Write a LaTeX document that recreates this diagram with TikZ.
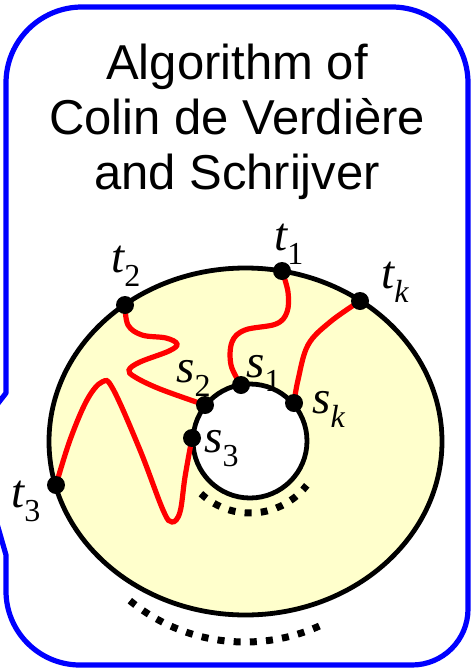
\documentclass[tikz,border=0pt]{standalone}
\usepackage{fontspec}
\setmainfont{Liberation Sans}
\newfontfamily\labfont{Liberation Serif}
\usepackage{tikz}
\usetikzlibrary{positioning}
\definecolor{frameblue}{RGB}{0,0,255}
\definecolor{wirered}{RGB}{255,0,0}
\definecolor{disk}{RGB}{255,255,204}
\newcommand\termlab[2]{{\labfont\itshape #1}\raisebox{-7pt}{\fontsize{16}{16}\selectfont\labfont #2}}

\begin{document}
\begin{tikzpicture}[x=0.5pt, y=-0.5pt,
  frame/.style={draw=frameblue, line width=2.6pt, line join=round},
  rim/.style={draw=black, line width=2.4pt},
  wire/.style={draw=wirered, line width=2.6pt, line cap=round, smooth, tension=0.6},
  dot/.style={circle, fill=black, minimum size=9pt, inner sep=0pt},
  lbl/.style={anchor=base west, inner sep=0pt, font=\fontsize{23.5}{23.5}\selectfont},
  dotline/.style={draw=black, line width=3.5pt, dash pattern=on 3.5pt off 4.6pt},
]
  \useasboundingbox (0,0) rectangle (472,669);
  \clip (0,0) rectangle (472,669);

  % callout frame
  \draw[frame] (-28,437) -- (6,393) -- (6,83) arc[start angle=180, end angle=90, radius=38pt]
    -- (392,7) arc[start angle=90, end angle=0, radius=38pt]
    -- (468,609) arc[start angle=0, end angle=-90, radius=28pt]
    -- (80,665) arc[start angle=-90, end angle=-180, radius=37pt]
    -- (6,555) -- cycle;

  \node[font=\fontsize{24.5}{27.5}\selectfont, align=center, anchor=north] (title) at (237,37)
    {Algorithm of\\Colin de Verdière\\and Schrijver};

  % annulus
  \coordinate (hole) at (250,441);
  \filldraw[rim, fill=disk] (245.5,441.5) ellipse [x radius=98.25pt, y radius=86.75pt];
  \filldraw[rim, fill=white] (hole) circle [radius=28.5pt];

  \coordinate (t1) at (282,271);
  \coordinate (tk) at (360,301);
  \coordinate (t2) at (125,305);
  \coordinate (t3) at (56,485);
  \coordinate (s1) at (241,385);
  \coordinate (sk) at (294,403);
  \coordinate (s2) at (205,405);
  \coordinate (s3) at (192,438);

  % paths
  \draw[wire] plot coordinates {(t1) (288,292) (287,312) (276,324) (245,330) (232,342) (231,365) (s1)};
  \draw[wire] plot coordinates {(tk) (330,322) (308,345) (298,380) (sk)};
  \draw[wire] plot coordinates {(t2) (128,325) (142,335) (166,338) (177,344) (169,351) (140,362) (129,370) (135,377) (160,389) (s2)};
  \draw[wire] plot coordinates {(t3) (70,440) (87,400) (102,382) (113,389) (140,450) (163,510) (172,522) (180,512) (185,477) (s3)};

  \foreach \p in {t1,tk,t2,t3,s1,sk,s2,s3}
    \node[dot] at (\p) {};

  \node[lbl] (t1lab) at (274,250) {\termlab{t}{1}};
  \node[lbl] (tklab) at (381,288) {\termlab{t}{\itshape k}};
  \node[lbl] (t2lab) at (111,272) {\termlab{t}{2}};
  \node[lbl] (t3lab) at (11,507) {\termlab{t}{3}};
  \node[lbl] (s1lab) at (246,377) {\termlab{s}{1}};
  \node[lbl] (sklab) at (312,413) {\termlab{s}{\itshape k}};
  \node[lbl] (s2lab) at (176,382) {\termlab{s}{2}};
  \node[lbl] (s3lab) at (204,452) {\termlab{s}{3}};

  % dots for the other terminals
  \draw[dotline] (hole) ++(-133:36pt) arc[start angle=-133, end angle=-38, radius=36pt];
  \draw[dotline] (245,461) ++(-129.5:90.5pt) arc[start angle=-129.5, end angle=-65.5, radius=90.5pt];
\end{tikzpicture}
\end{document}
